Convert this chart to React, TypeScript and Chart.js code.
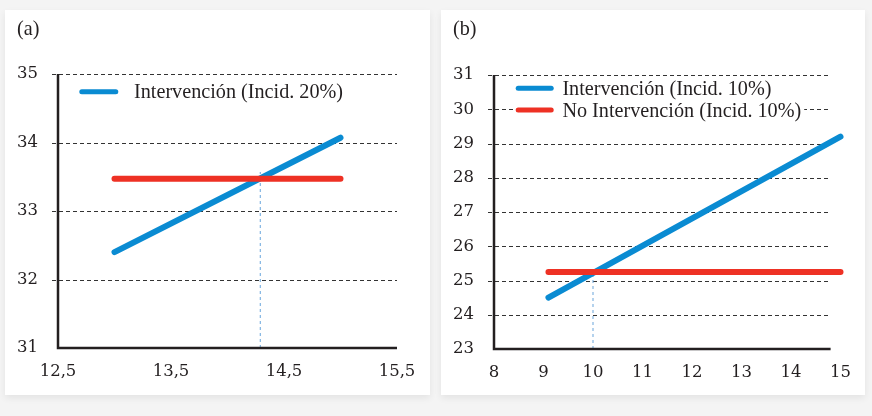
import React, { useEffect, useRef } from "react";
import { Chart, registerables } from "chart.js";
Chart.register(...registerables);

// ---------- Panel (a) ----------
const panelA_title = "(a)";
const panelA_x = [13, 15];
const panelA_intervencion = [32.4, 34.07];
const panelA_noIntervencion = [33.47, 33.47];
const panelA_thresholdX = [14.29, 14.29];
const panelA_thresholdY = [31, 33.57];
const panelA_xTicks = [12.5, 13.5, 14.5, 15.5];
const panelA_yTicks = [31, 32, 33, 34, 35];
const panelA_legend = ["Intervención (Incid. 20%)"];

// ---------- Panel (b) ----------
const panelB_title = "(b)";
const panelB_x = [9.1, 15];
const panelB_intervencion = [24.5, 29.2];
const panelB_noIntervencion = [25.25, 25.25];
const panelB_thresholdX = [10, 10];
const panelB_thresholdY = [23, 25.3];
const panelB_xTicks = [8, 9, 10, 11, 12, 13, 14, 15];
const panelB_yTicks = [23, 24, 25, 26, 27, 28, 29, 30, 31];
const panelB_legend = ["Intervención (Incid. 10%)", "No Intervención (Incid. 10%)"];

const BLUE = "#0a8bd2";
const RED = "#ee3124";
const THRESH = "#6aa6dc";
const INK = "#231f20";
const TICK_FONT = { family: "'DejaVu Serif'", size: 16.5 };
const TEXT_FONT = "20.2px 'Liberation Serif'";

const zip = (xs: number[], ys: number[]) => xs.map((x, i) => ({ x, y: ys[i] }));

type PanelCfg = {
  title: string;
  x: number[];
  interv: number[];
  noInterv: number[];
  thX: number[];
  thY: number[];
  xTicks: number[];
  yTicks: number[];
  legend: string[];
  gridEnd: number;
  padRight: number;
  padTop: number;
  yWidth: number;
  xHeight: number;
  titlePos: [number, number];
  legendLayout: { x1: number; x2: number; tx: number; rows: number[] };
};

const framePlugin = {
  id: "frame",
  beforeDatasetsDraw(chart: any) {
    const o = chart.options.plugins.frame;
    const { ctx, chartArea } = chart;
    const xs = chart.scales.x;
    const ys = chart.scales.y;
    const xEnd = xs.getPixelForValue(o.gridEnd);
    ctx.save();
    ctx.strokeStyle = "#333";
    ctx.lineWidth = 1;
    ctx.setLineDash([4, 3]);
    for (const v of o.yTicks.slice(1)) {
      const py = Math.round(ys.getPixelForValue(v)) + 0.5;
      ctx.beginPath();
      ctx.moveTo(chartArea.left - 6, py);
      ctx.lineTo(xEnd, py);
      ctx.stroke();
    }
    ctx.restore();
  },
  afterDatasetsDraw(chart: any) {
    const o = chart.options.plugins.frame;
    const { ctx, chartArea } = chart;
    const xs = chart.scales.x;
    const ys = chart.scales.y;
    const xEnd = xs.getPixelForValue(o.gridEnd);
    const top = ys.getPixelForValue(o.yTicks[o.yTicks.length - 1]);
    const bottom = ys.getPixelForValue(o.yTicks[0]);
    ctx.save();
    ctx.strokeStyle = INK;
    ctx.lineWidth = 2.5;
    ctx.beginPath();
    ctx.moveTo(chartArea.left, top);
    ctx.lineTo(chartArea.left, bottom);
    ctx.lineTo(xEnd, bottom);
    ctx.stroke();

    // title
    ctx.fillStyle = INK;
    ctx.font = TEXT_FONT;
    ctx.textBaseline = "alphabetic";
    ctx.textAlign = "left";
    ctx.fillText(o.title, o.titlePos[0], o.titlePos[1]);

    // legend
    const L = o.legendLayout;
    const colors = [BLUE, RED];
    o.legend.forEach((label: string, i: number) => {
      const y = chartArea.top + L.rows[i];
      const x1 = chartArea.left + L.x1;
      const x2 = chartArea.left + L.x2;
      const tx = chartArea.left + L.tx;
      ctx.font = TEXT_FONT;
      const w = ctx.measureText(label).width;
      ctx.fillStyle = "#ffffff";
      ctx.fillRect(x1 - 2.5, y - 10, tx + w + 3 - (x1 - 2.5), 20);
      ctx.strokeStyle = colors[i];
      ctx.lineWidth = 5;
      ctx.lineCap = "round";
      ctx.beginPath();
      ctx.moveTo(x1, y);
      ctx.lineTo(x2, y);
      ctx.stroke();
      ctx.fillStyle = INK;
      ctx.fillText(label, tx, y + 6.6);
    });
    ctx.restore();
  },
};

function makeConfig(p: PanelCfg): any {
  const fmt = (v: number) => String(v).replace(".", ",");
  return {
    type: "line",
    data: {
      datasets: [
        {
          label: "No Intervención",
          data: zip(p.x, p.noInterv),
          borderColor: RED,
          borderWidth: 6,
          borderCapStyle: "round",
          pointRadius: 0,
          clip: false,
          order: 1,
        },
        {
          label: "Intervención",
          data: zip(p.x, p.interv),
          borderColor: BLUE,
          borderWidth: 6,
          borderCapStyle: "round",
          pointRadius: 0,
          clip: false,
          order: 2,
        },
        {
          label: "Umbral",
          data: zip(p.thX, p.thY),
          borderColor: THRESH,
          borderWidth: 1,
          borderDash: [3, 3],
          pointRadius: 0,
          clip: false,
          order: 3,
        },
      ],
    },
    options: {
      animation: false,
      responsive: false,
      events: [],
      layout: { padding: { top: p.padTop, right: p.padRight, bottom: 0, left: 0 } },
      plugins: {
        legend: { display: false },
        tooltip: { enabled: false },
        frame: {
          title: p.title,
          legend: p.legend,
          gridEnd: p.gridEnd,
          yTicks: p.yTicks,
          titlePos: p.titlePos,
          legendLayout: p.legendLayout,
        },
      },
      scales: {
        x: {
          type: "linear",
          min: p.xTicks[0],
          max: p.xTicks[p.xTicks.length - 1],
          afterBuildTicks: (s: any) => {
            s.ticks = p.xTicks.map((v) => ({ value: v }));
          },
          afterFit: (s: any) => {
            s.height = p.xHeight;
          },
          grid: { display: false, drawTicks: false },
          border: { display: false },
          ticks: {
            font: TICK_FONT,
            color: INK,
            padding: 14,
            maxRotation: 0,
            autoSkip: false,
            callback: (v: number) => fmt(v),
          },
        },
        y: {
          type: "linear",
          min: p.yTicks[0],
          max: p.yTicks[p.yTicks.length - 1],
          afterBuildTicks: (s: any) => {
            s.ticks = p.yTicks.map((v) => ({ value: v }));
          },
          afterFit: (s: any) => {
            s.width = p.yWidth;
          },
          grid: { display: false, drawTicks: false },
          border: { display: false },
          ticks: {
            font: TICK_FONT,
            color: INK,
            padding: 20,
            autoSkip: false,
            callback: (v: number) => fmt(v),
          },
        },
      },
    },
    plugins: [framePlugin],
  };
}

const panelA: PanelCfg = {
  title: panelA_title,
  x: panelA_x,
  interv: panelA_intervencion,
  noInterv: panelA_noIntervencion,
  thX: panelA_thresholdX,
  thY: panelA_thresholdY,
  xTicks: panelA_xTicks,
  yTicks: panelA_yTicks,
  legend: panelA_legend,
  gridEnd: 15.5,
  padRight: 33,
  padTop: 64,
  yWidth: 53,
  xHeight: 47,
  titlePos: [12, 25],
  legendLayout: { x1: 23.8, x2: 57.8, tx: 76, rows: [17.7] },
};

const panelB: PanelCfg = {
  title: panelB_title,
  x: panelB_x,
  interv: panelB_intervencion,
  noInterv: panelB_noIntervencion,
  thX: panelB_thresholdX,
  thY: panelB_thresholdY,
  xTicks: panelB_xTicks,
  yTicks: panelB_yTicks,
  legend: panelB_legend,
  gridEnd: 14.8,
  padRight: 22,
  padTop: 65,
  yWidth: 53,
  xHeight: 46,
  titlePos: [12, 25],
  legendLayout: { x1: 24.2, x2: 57.2, tx: 68.4, rows: [13.3, 35] },
};

function Panel({ cfg, left, width }: { cfg: PanelCfg; left: number; width: number }) {
  const ref = useRef<HTMLCanvasElement>(null);
  useEffect(() => {
    const chart = new Chart(ref.current as HTMLCanvasElement, makeConfig(cfg));
    return () => chart.destroy();
  }, [cfg]);
  return (
    <div
      style={{
        position: "absolute",
        left,
        top: 10,
        width,
        height: 385,
        background: "#ffffff",
        boxShadow: "0 3px 7px rgba(0,0,0,0.07)",
      }}
    >
      <canvas ref={ref} width={width} height={385} style={{ display: "block", width, height: 385 }} />
    </div>
  );
}

export default function App() {
  useEffect(() => {
    document.body.style.margin = "0";
  }, []);
  return (
    <div
      style={{
        position: "fixed",
        left: 0,
        top: 0,
        width: 872,
        height: 416,
        background: "#f4f4f4",
        overflow: "hidden",
      }}
    >
      <Panel cfg={panelA} left={5} width={425} />
      <Panel cfg={panelB} left={441} width={424} />
    </div>
  );
}
